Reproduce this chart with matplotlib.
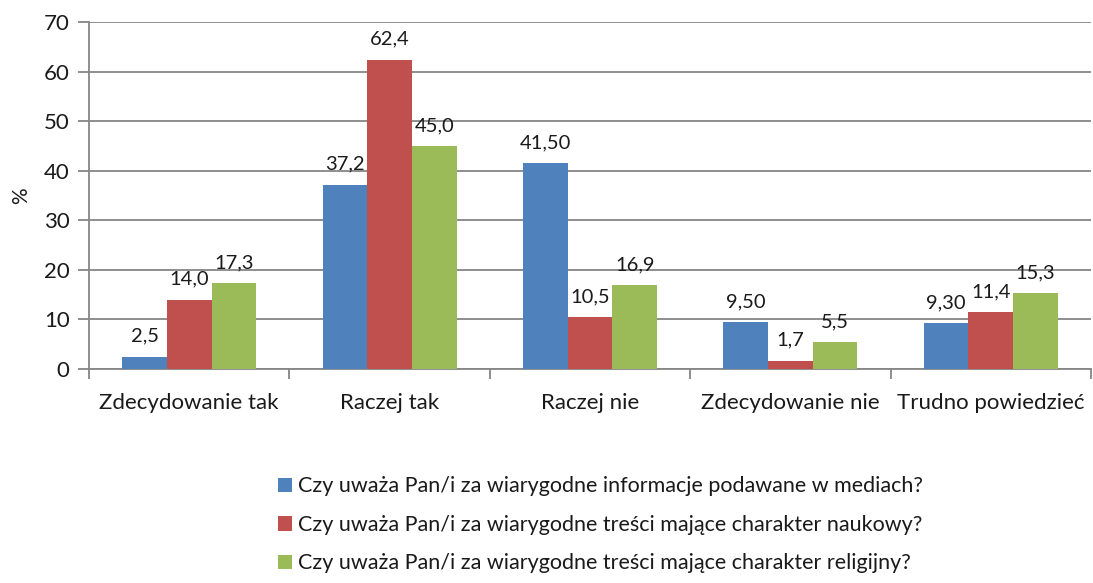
import numpy as np
import matplotlib
matplotlib.use("Agg")
import matplotlib.pyplot as plt

plt.rcParams['font.family'] = ['Lato', 'DejaVu Sans']

categories = ["Zdecydowanie tak", "Raczej tak", "Raczej nie",
              "Zdecydowanie nie", "Trudno powiedzieć"]
series_names = [
    "Czy uważa Pan/i za wiarygodne informacje podawane w mediach?",
    "Czy uważa Pan/i za wiarygodne treści mające charakter naukowy?",
    "Czy uważa Pan/i za wiarygodne treści mające charakter religijny?",
]
media = [2.5, 37.2, 41.5, 9.5, 9.3]
nauka = [14.0, 62.4, 10.5, 1.7, 11.4]
religia = [17.3, 45.0, 16.9, 5.5, 15.3]
media_labels = ["2,5", "37,2", "41,50", "9,50", "9,30"]
nauka_labels = ["14,0", "62,4", "10,5", "1,7", "11,4"]
religia_labels = ["17,3", "45,0", "16,9", "5,5", "15,3"]

colors = ["#4F81BD", "#C0504D", "#9BBB59"]
grid_c = "#868686"
text_c = "#1a1a1a"

px = 1/100
fig = plt.figure(figsize=(1093*px, 583*px), dpi=100)
ax = fig.add_axes([89/1093, 1-369/583, 1002/1093, 347/583])

x = np.arange(len(categories))
w = 0.223
all_vals = [media, nauka, religia]
all_labels = [media_labels, nauka_labels, religia_labels]
for i, (vals, labs) in enumerate(zip(all_vals, all_labels)):
    bars = ax.bar(x + (i-1)*w, vals, w, color=colors[i], label=series_names[i],
                  zorder=3)
    for b, lab in zip(bars, labs):
        ax.annotate(lab, (b.get_x() + b.get_width()/2, b.get_height()),
                    xytext=(0, 8.5), textcoords="offset points",
                    ha="center", va="bottom", fontsize=14.5, color=text_c)

ax.set_xlim(-0.5, len(categories)-0.5)
ax.set_ylim(0, 70)
ax.set_yticks(range(0, 71, 10))
ax.yaxis.grid(True, color=grid_c, linewidth=1.3, zorder=0)
ax.set_axisbelow(True)
for s in ["top", "right"]:
    ax.spines[s].set_visible(False)
for s in ["left", "bottom"]:
    ax.spines[s].set_color(grid_c)
    ax.spines[s].set_linewidth(1.3)

ax.set_xticks(x)
ax.set_xticklabels(categories, fontsize=16, color=text_c)
ax.set_xticks(np.arange(-0.5, len(categories), 1), minor=True)
ax.tick_params(axis="x", which="major", length=0, pad=17)
ax.tick_params(axis="x", which="minor", length=7, color=grid_c, width=1.3)
ax.tick_params(axis="y", length=8, color=grid_c, width=1.3, labelsize=16,
               labelcolor=text_c, pad=6)
ax.set_ylabel("%", fontsize=15, color=text_c, labelpad=9)

leg = fig.legend(loc="upper left", bbox_to_anchor=(259/1093, 1-457/583),
                 frameon=False, fontsize=15.5, handlelength=0.65, handleheight=0.65,
                 handletextpad=0.25, labelspacing=0.86)
for t in leg.get_texts():
    t.set_color(text_c)

fig.savefig("out.png", dpi=100)
